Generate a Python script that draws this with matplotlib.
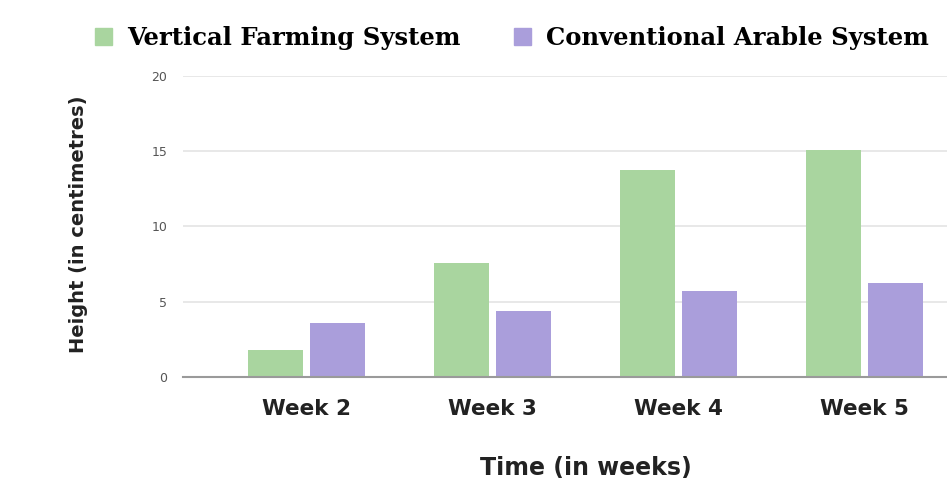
import matplotlib.pyplot as plt
from matplotlib.patches import Patch
import numpy as np

# plant height per week, both systems
weeks = ["Week 2", "Week 3", "Week 4", "Week 5"]
vertical = [1.8, 7.6, 13.75, 15.1]
conventional = [3.6, 4.35, 5.7, 6.25]

green = "#a9d59f"
purple = "#aa9edb"

fig = plt.figure(figsize=(9.47, 4.87), dpi=100)
ax = fig.add_axes([0.193, 0.226, 0.807, 0.618])

x = np.arange(len(weeks))
w = 0.296
ax.bar(x - 0.167, vertical, w, color=green, zorder=3)
ax.bar(x + 0.167, conventional, w, color=purple, zorder=3)

ax.set_ylim(0, 20)
ax.set_xlim(-0.664, 3.444)
ax.set_yticks([0, 5, 10, 15, 20])
ax.set_xticks(x)
ax.set_xticklabels(weeks, fontsize=15.5, fontweight="bold", color="#222222")
ax.tick_params(axis="x", length=0, pad=16)
ax.tick_params(axis="y", length=0, pad=11, labelsize=9, labelcolor="#555555")

ax.grid(axis="y", color="#e4e4e4", lw=1.2, zorder=0)
ax.set_axisbelow(True)
for s in ["top", "right", "left"]:
    ax.spines[s].set_visible(False)
ax.spines["bottom"].set_color("#9a9a9a")
ax.spines["bottom"].set_linewidth(1.5)
ax.spines["bottom"].set_zorder(4)

# axis titles
fig.text(0.619, 0.04, "Time (in weeks)", ha="center", va="center",
         fontsize=17, fontweight="bold", color="#222222")
fig.text(0.083, 0.54, "Height (in centimetres)", ha="center", va="center",
         rotation=90, fontsize=14, fontweight="bold", color="#222222")

handles = [Patch(color=green, label="Vertical Farming System"),
           Patch(color=purple, label="Conventional Arable System")]
fig.legend(handles=handles, loc="center left", bbox_to_anchor=(0.077, 0.922),
           ncol=2, frameon=False, handlelength=0.72, handleheight=0.72,
           handletextpad=0.6, columnspacing=2.2,
           prop={"family": "DejaVu Serif", "weight": "bold", "size": 17.5})

fig.savefig("out.png", dpi=100)
